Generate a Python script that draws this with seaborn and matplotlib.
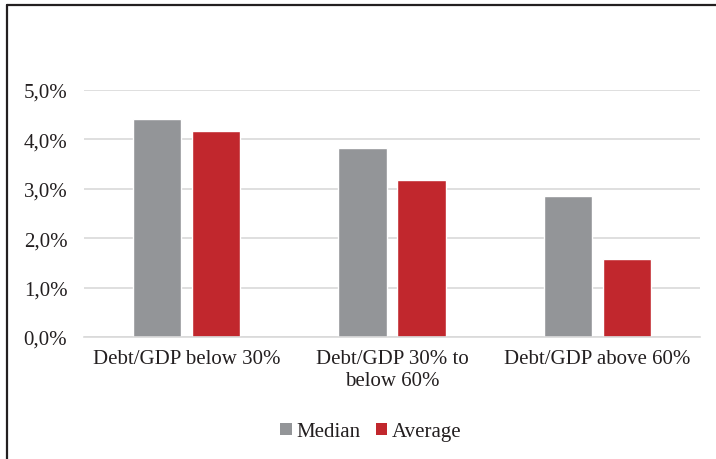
import matplotlib
matplotlib.use("Agg")
import matplotlib.pyplot as plt
from matplotlib.lines import Line2D
from matplotlib.patches import Patch
import seaborn as sns
import pandas as pd

categories = ["Debt/GDP below 30%", "Debt/GDP 30% to\nbelow 60%", "Debt/GDP above 60%"]
series_names = ["Median", "Average"]
median_vals = [4.41, 3.82, 2.85]
average_vals = [4.17, 3.18, 1.58]
y_ticks = [0, 1, 2, 3, 4, 5]
y_tick_labels = ["0,0%", "1,0%", "2,0%", "3,0%", "4,0%", "5,0%"]
colors = ["#939598", "#C1272D"]

df = pd.DataFrame({
    "cat": categories * 2,
    "series": [series_names[0]] * 3 + [series_names[1]] * 3,
    "value": median_vals + average_vals,
})

sns.set_theme(style="white")
plt.rcParams["font.family"] = ["Liberation Serif", "DejaVu Serif"]

fig = plt.figure(figsize=(7.16, 4.60), dpi=100)
ax = fig.add_axes([84 / 716, 1 - 338 / 460, (700 - 84) / 716, (338 - 91) / 460])

sns.barplot(data=df, x="cat", y="value", hue="series", palette=colors,
            width=0.575, gap=0.186, ax=ax, legend=False, saturation=1)

ax.set_ylim(0, 5)
ax.set_xlim(-0.5, 2.5)
ax.set_yticks(y_ticks)
ax.set_yticklabels(y_tick_labels, fontsize=15, color="#231f20")
ax.tick_params(axis="y", length=0, pad=12)
ax.tick_params(axis="x", length=0, pad=9, labelsize=15, colors="#231f20")
ax.set_xlabel("")
ax.set_ylabel("")
for s in ["top", "right", "left"]:
    ax.spines[s].set_visible(False)
ax.spines["bottom"].set_color("#d9d9d9")
ax.spines["bottom"].set_linewidth(1.2)
ax.yaxis.grid(True, color="#d9d9d9", linewidth=1.2)
ax.set_axisbelow(True)

handles = [Patch(facecolor=c, edgecolor="none") for c in colors]
fig.legend(handles, series_names, loc="center", bbox_to_anchor=(371 / 716, 1 - 433 / 460),
           ncol=2, frameon=False, fontsize=15, handlelength=0.55, handleheight=0.55,
           handletextpad=0.25, columnspacing=0.7, labelcolor="#231f20")

# outer frame (top and left visible)
fig.add_artist(Line2D([7.5 / 716, 7.5 / 716], [0, 1 - 5.5 / 460], transform=fig.transFigure,
                      color="#231f20", linewidth=1.6))
fig.add_artist(Line2D([7.5 / 716, 1], [1 - 5.5 / 460, 1 - 5.5 / 460], transform=fig.transFigure,
                      color="#231f20", linewidth=1.6))

fig.savefig("out.png", dpi=100)
